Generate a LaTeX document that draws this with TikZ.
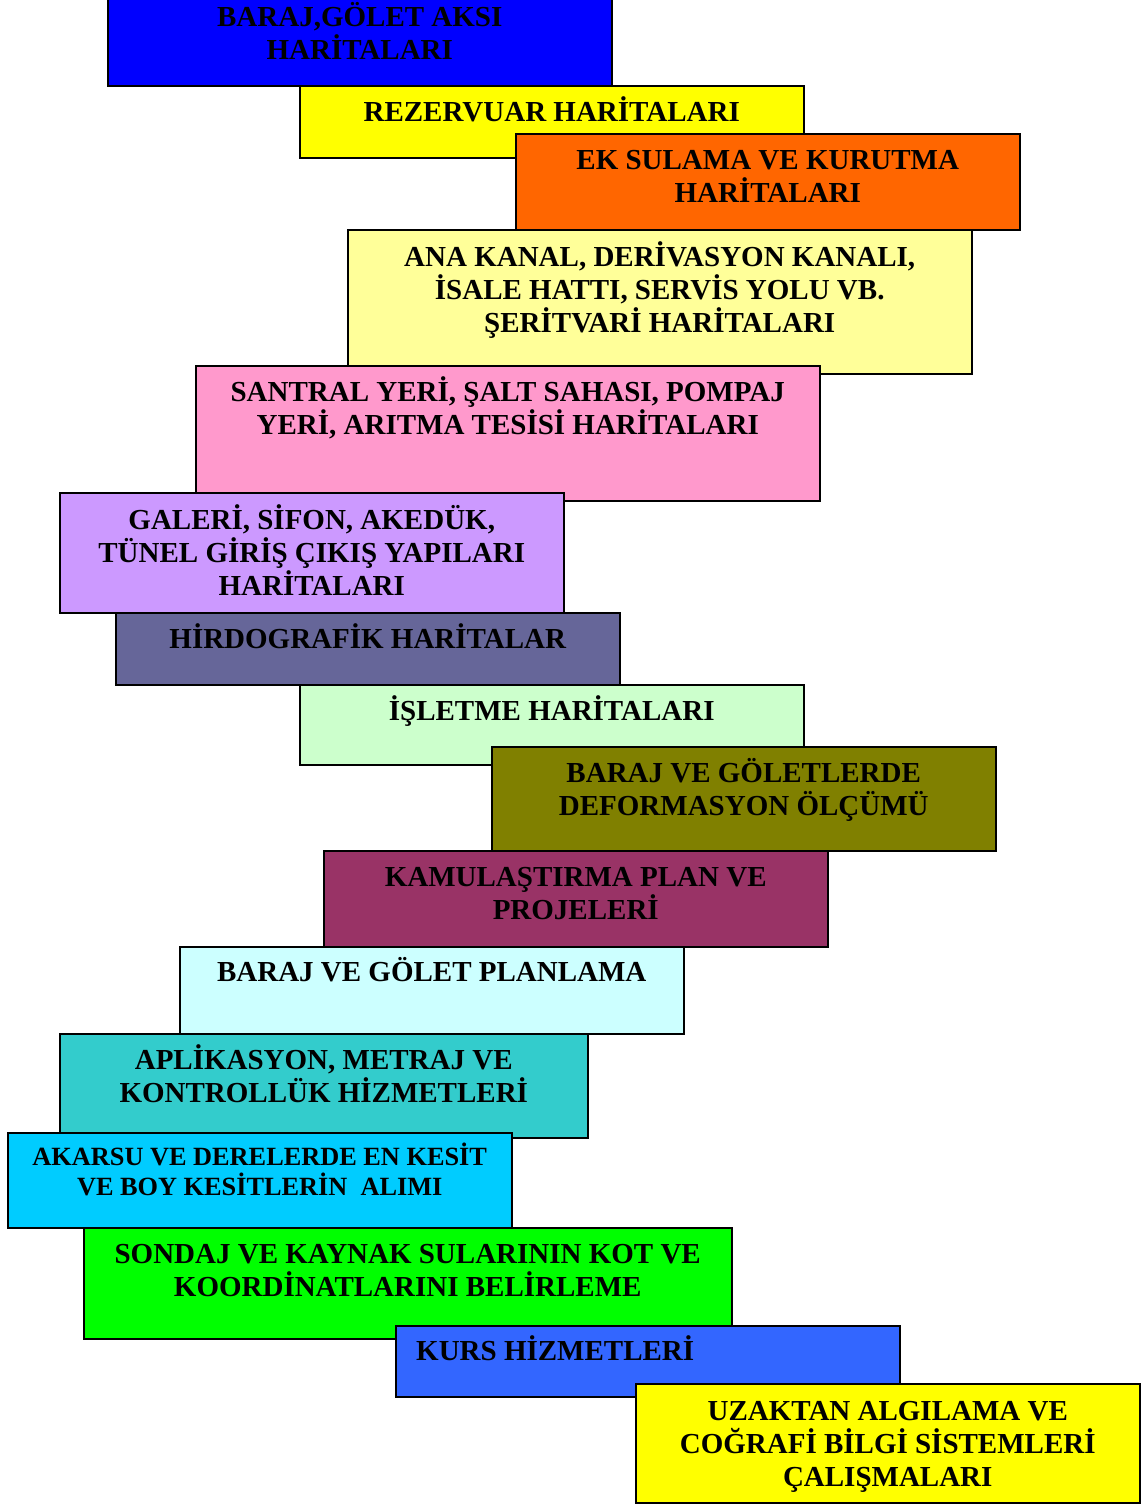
\documentclass[tikz,border=0pt]{standalone}
\usepackage{fontspec}
\setmainfont{Liberation Serif}
\usepackage{tikz}
\usetikzlibrary{positioning, calc}
\definecolor{cblue}{HTML}{0000FF}
\definecolor{cyellow}{HTML}{FFFF00}
\definecolor{corange}{HTML}{FF6600}
\definecolor{clightyellow}{HTML}{FFFF99}
\definecolor{cpink}{HTML}{FF99CC}
\definecolor{clavender}{HTML}{CC99FF}
\definecolor{cslate}{HTML}{666699}
\definecolor{cmint}{HTML}{CCFFCC}
\definecolor{colive}{HTML}{808000}
\definecolor{cplum}{HTML}{993366}
\definecolor{cice}{HTML}{CCFFFF}
\definecolor{cteal}{HTML}{33CCCC}
\definecolor{csky}{HTML}{00CCFF}
\definecolor{cgreen}{HTML}{00FF00}
\definecolor{croyal}{HTML}{3366FF}
\tikzset{
	stepbox/.style={
			rectangle,
			draw=black,
			line width=1.5pt,
			anchor=north west,
			inner sep=0pt,
			minimum width=504pt
		},
	steptext/.style={
			font=\fontsize{29}{33}\selectfont\bfseries,
			align=center,
			inner sep=0pt,
			anchor=base
		},
	smalltext/.style={
			steptext,
			font=\fontsize{26.3}{30}\selectfont\bfseries
		}
}
\begin{document}
\begin{tikzpicture}[x=1pt, y=-1pt]
\useasboundingbox (0,0) rectangle (1145,1505);

% base anchor sits on the last line, so shift = first baseline + (lines-1)*33
\node[stepbox, fill=cblue, minimum height=95pt] (baraj) at (107,-10) {};
\node[steptext] (baraj-t) at ($(baraj.north)+(0,69.5)$) {BARAJ,GÖLET AKSI\\HARİTALARI};

\node[stepbox, fill=cyellow, minimum height=72pt] (rezervuar) at (299,85) {};
\node[steptext] (rezervuar-t) at ($(rezervuar.north)+(0,36.5)$) {REZERVUAR HARİTALARI};

\node[stepbox, fill=corange, minimum height=96pt] (eksulama) at (515,133) {};
\node[steptext] (eksulama-t) at ($(eksulama.north)+(0,69.5)$) {EK SULAMA VE KURUTMA\\HARİTALARI};

\node[stepbox, fill=clightyellow, minimum width=624pt, minimum height=144pt] (anakanal) at (347,229) {};
\node[steptext] (anakanal-t) at ($(anakanal.north)+(0,103.5)$) {ANA KANAL, DERİVASYON KANALI,\\İSALE HATTI, SERVİS YOLU VB.\\ŞERİTVARİ HARİTALARI};

\node[stepbox, fill=cpink, minimum width=624pt, minimum height=135pt] (santral) at (195,365) {};
\node[steptext] (santral-t) at ($(santral.north)+(0,69.5)$) {SANTRAL YERİ, ŞALT SAHASI, POMPAJ\\YERİ, ARITMA TESİSİ HARİTALARI};

\node[stepbox, fill=clavender, minimum height=120pt] (galeri) at (59,492) {};
\node[steptext] (galeri-t) at ($(galeri.north)+(0,103.5)$) {GALERİ, SİFON, AKEDÜK,\\TÜNEL GİRİŞ ÇIKIŞ YAPILARI\\HARİTALARI};

\node[stepbox, fill=cslate, minimum height=72pt] (hidro) at (115,612) {};
\node[steptext] (hidro-t) at ($(hidro.north)+(0,36.5)$) {HİRDOGRAFİK HARİTALAR};

\node[stepbox, fill=cmint, minimum height=80pt] (isletme) at (299,684) {};
\node[steptext] (isletme-t) at ($(isletme.north)+(0,36.5)$) {İŞLETME HARİTALARI};

\node[stepbox, fill=colive, minimum height=104pt] (deform) at (491,746) {};
\node[steptext] (deform-t) at ($(deform.north)+(0,69.5)$) {BARAJ VE GÖLETLERDE\\DEFORMASYON ÖLÇÜMÜ};

\node[stepbox, fill=cplum, minimum height=96pt] (kamu) at (323,850) {};
\node[steptext] (kamu-t) at ($(kamu.north)+(0,69.5)$) {KAMULAŞTIRMA PLAN VE\\PROJELERİ};

\node[stepbox, fill=cice, minimum height=87pt] (planlama) at (179,946) {};
\node[steptext] (planlama-t) at ($(planlama.north)+(0,35.5)$) {BARAJ VE GÖLET PLANLAMA};

\node[stepbox, fill=cteal, minimum width=528pt, minimum height=104pt] (aplikasyon) at (59,1033) {};
\node[steptext] (aplikasyon-t) at ($(aplikasyon.north)+(0,69.5)$) {APLİKASYON, METRAJ VE\\KONTROLLÜK HİZMETLERİ};

\node[stepbox, fill=csky, minimum height=95pt] (akarsu) at (7,1132) {};
\node[smalltext] (akarsu-t) at ($(akarsu.north)+(0,63.5)$) {AKARSU VE DERELERDE EN KESİT\\VE BOY KESİTLERİN~ ALIMI};

\node[stepbox, fill=cgreen, minimum width=648pt, minimum height=111pt] (sondaj) at (83,1227) {};
\node[steptext] (sondaj-t) at ($(sondaj.north)+(0,69.5)$) {SONDAJ VE KAYNAK SULARININ KOT VE\\KOORDİNATLARINI BELİRLEME};

\node[stepbox, fill=croyal, minimum height=71pt] (kurs) at (395,1325) {};
\node[steptext, anchor=base west] (kurs-t) at ($(kurs.north west)+(21,35.5)$) {KURS HİZMETLERİ};

\node[stepbox, fill=cyellow, minimum height=119pt] (uzaktan) at (635,1383) {};
\node[steptext] (uzaktan-t) at ($(uzaktan.north)+(0,103.5)$) {UZAKTAN ALGILAMA VE\\COĞRAFİ BİLGİ SİSTEMLERİ\\ÇALIŞMALARI};

\end{tikzpicture}
\end{document}
